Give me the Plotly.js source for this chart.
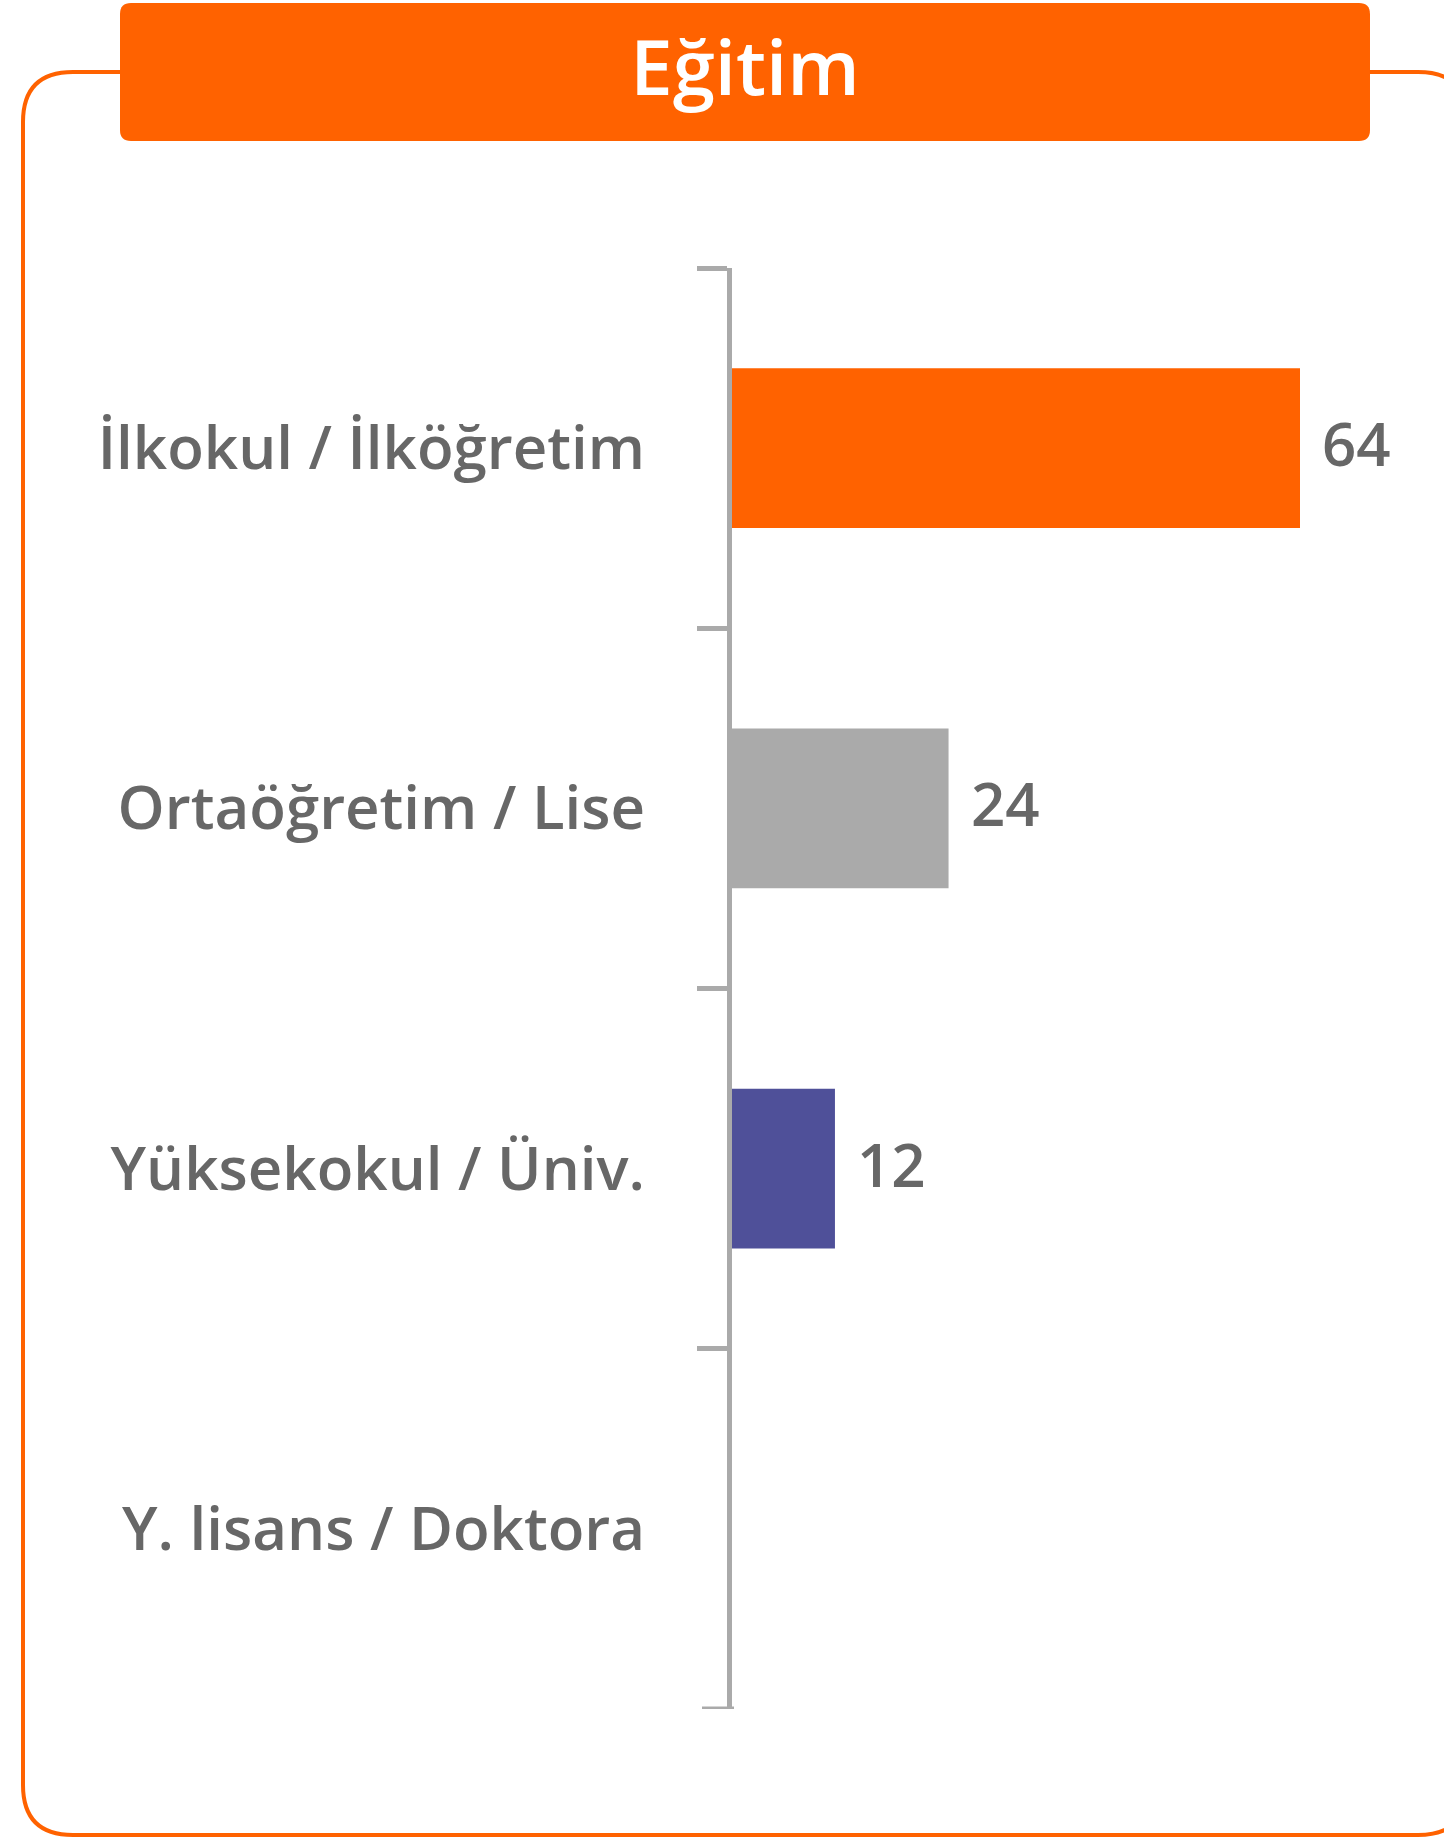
<!DOCTYPE html>
<html>
<head>
<meta charset="utf-8">
<script src="https://cdn.plot.ly/plotly-3.0.1.min.js"></script>
<style>
  html, body { margin: 0; padding: 0; background: #ffffff; }
  #chart { width: 1444px; height: 1839px; }
</style>
</head>
<body>
<div id="chart"></div>
<script>
// ---- data ----
const chartTitle = "Eğitim";
const categories = ["İlkokul / İlköğretim", "Ortaöğretim / Lise", "Yüksekokul / Üniv.", "Y. lisans / Doktora"];
const values = [64.0, 24.4, 11.6, 0];
const valueLabels = ["64", "24", "12", ""];
const barColors = ["#FF6200", "#AAAAAA", "#4F5099", "#FFFFFF"];

// ---- layout geometry ----
const W = 1444, H = 1839;
const M = { l: 732, r: 2, t: 268, b: 130 };
const PW = W - M.l - M.r, PH = H - M.t - M.b;
const px = x => (x - M.l) / PW;
const py = y => 1 - (y - M.t) / PH;

function roundRect(x0, y0, x1, y1, r) {
  const X = v => px(v).toFixed(5), Y = v => py(v).toFixed(5);
  return "M" + X(x0 + r) + "," + Y(y0) +
    " L" + X(x1 - r) + "," + Y(y0) +
    " Q" + X(x1) + "," + Y(y0) + " " + X(x1) + "," + Y(y0 + r) +
    " L" + X(x1) + "," + Y(y1 - r) +
    " Q" + X(x1) + "," + Y(y1) + " " + X(x1 - r) + "," + Y(y1) +
    " L" + X(x0 + r) + "," + Y(y1) +
    " Q" + X(x0) + "," + Y(y1) + " " + X(x0) + "," + Y(y1 - r) +
    " L" + X(x0) + "," + Y(y0 + r) +
    " Q" + X(x0) + "," + Y(y0) + " " + X(x0 + r) + "," + Y(y0) + " Z";
}

const FONT = "'Open Sans', 'Noto Sans', sans-serif";

const trace = {
  type: "bar",
  orientation: "h",
  x: values,
  y: categories,
  marker: { color: barColors, line: { width: 0 } },
  hoverinfo: "skip",
  showlegend: false
};

const annotations = [];
values.forEach((v, i) => {
  if (valueLabels[i] !== "") {
    annotations.push({
      x: v, y: categories[i], xref: "x", yref: "y",
      text: valueLabels[i], showarrow: false,
      xanchor: "left", yanchor: "middle", xshift: 20, yshift: 5,
      font: { family: FONT, size: 60, color: "#676767", weight: 600 }
    });
  }
});

const lastBoundary = categories.length - 0.5;

const layout = {
  width: W, height: H,
  margin: M,
  paper_bgcolor: "#ffffff",
  plot_bgcolor: "rgba(0,0,0,0)",
  bargap: 0.556,
  title: {
    text: chartTitle,
    xref: "container", x: 745 / W, xanchor: "center",
    yref: "container", y: 1 - 68 / H, yanchor: "middle",
    font: { family: FONT, size: 76, color: "#ffffff", weight: 600 }
  },
  xaxis: {
    range: [0, 80], visible: false, showgrid: false, zeroline: false, fixedrange: true
  },
  yaxis: {
    range: [lastBoundary, -0.5],
    showline: true, linecolor: "#AAAAAA", linewidth: 5,
    ticks: "outside", tickson: "boundaries", ticklen: 30, tickwidth: 5, tickcolor: "#AAAAAA",
    ticklabelstandoff: 70,
    showgrid: false, zeroline: false, fixedrange: true,
    tickfont: { family: FONT, size: 60, color: "#676767", weight: 600 }
  },
  shapes: [
    {
      type: "path", xref: "paper", yref: "paper", layer: "below",
      path: roundRect(23, 72, 1468, 1835, 50),
      line: { color: "#FF6200", width: 4 }, fillcolor: "rgba(0,0,0,0)"
    },
    {
      type: "path", xref: "paper", yref: "paper", layer: "below",
      path: roundRect(120, 3, 1370, 141, 11),
      line: { width: 0 }, fillcolor: "#FF6200"
    },
    {
      // closing boundary tick at the bottom of the category axis
      type: "line", xref: "paper", yref: "y", layer: "above",
      x0: px(702), x1: px(734), y0: lastBoundary, y1: lastBoundary,
      line: { color: "#AAAAAA", width: 5 }
    }
  ],
  annotations: annotations
};

Plotly.newPlot("chart", [trace], layout, { displayModeBar: false, staticPlot: true });
</script>
</body>
</html>
